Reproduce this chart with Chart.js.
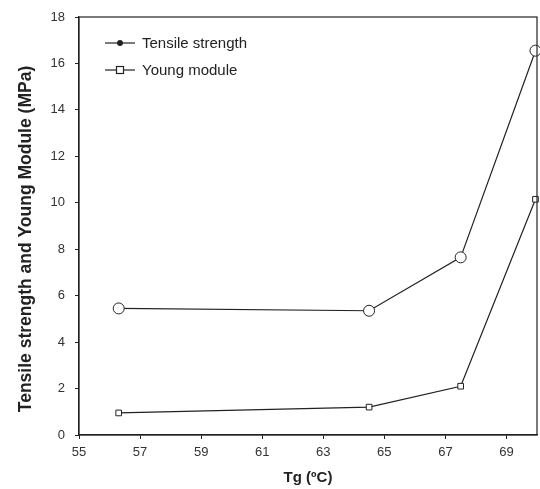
<!DOCTYPE html>
<html><head><meta charset="utf-8">
<script src="https://cdn.jsdelivr.net/npm/chart.js@4/dist/chart.umd.min.js"></script>
<style>html,body{margin:0;padding:0;background:#fff}#wrap{width:540px;height:489px}</style>
</head><body><div id="wrap"><canvas id="c" width="540" height="489"></canvas></div>
<script>
const tgValues = [56.3, 64.5, 67.5, 69.95];
const tensileStrength = [5.45, 5.35, 7.65, 16.55];
const youngModule = [0.95, 1.2, 2.1, 10.15];
const xTicks = [55, 57, 59, 61, 63, 65, 67, 69];
const yTicks = [0, 2, 4, 6, 8, 10, 12, 14, 16, 18];
const seriesLabels = ['Tensile strength', 'Young module'];
const xTitle = 'Tg (ºC)';
const yTitle = 'Tensile strength and Young Module (MPa)';

const FONT = '"Liberation Sans", Arial, sans-serif';
const ink = '#222';

const frame = {
  id: 'frame',
  afterDraw(chart) {
    const {ctx, chartArea: a} = chart;
    ctx.save();
    ctx.strokeStyle = ink; ctx.lineWidth = 1.2;
    ctx.strokeRect(a.left, a.top, a.right - a.left, a.bottom - a.top);
    // legend
    ctx.font = '15px ' + FONT;
    ctx.textBaseline = 'middle';
    chart.data.datasets.forEach((ds, i) => {
      const y = a.top + 26 + i * 27;
      const x0 = a.left + 26, x1 = a.left + 56;
      ctx.strokeStyle = ink; ctx.lineWidth = 1.2;
      ctx.beginPath(); ctx.moveTo(x0, y); ctx.lineTo(x1, y); ctx.stroke();
      const cx = (x0 + x1) / 2;
      if (i === 0) {
        ctx.fillStyle = ink; ctx.beginPath(); ctx.arc(cx, y, 3, 0, Math.PI * 2); ctx.fill();
      } else {
        ctx.fillStyle = '#fff'; ctx.fillRect(cx - 3.5, y - 3.5, 7, 7);
        ctx.strokeRect(cx - 3.5, y - 3.5, 7, 7);
      }
      ctx.fillStyle = ink;
      ctx.fillText(ds.label, x1 + 7, y + 1);
    });
    // axis titles
    ctx.fillStyle = ink;
    ctx.textAlign = 'center'; ctx.textBaseline = 'middle';
    ctx.font = 'bold 15px ' + FONT;
    ctx.fillText(xTitle, (a.left + a.right) / 2, 478);
    ctx.save();
    ctx.translate(26, 239);
    ctx.rotate(-Math.PI / 2);
    ctx.font = 'bold 17.5px ' + FONT;
    ctx.fillText(yTitle, 0, 0);
    ctx.restore();
    ctx.restore();
  }
};

new Chart(document.getElementById('c'), {
  type: 'line',
  data: {
    datasets: [
      { label: seriesLabels[0], data: tgValues.map((x, i) => ({x, y: tensileStrength[i]})),
        borderColor: ink, borderWidth: 1.2, pointStyle: 'circle', pointRadius: 5.5,
        pointBackgroundColor: '#fff', pointBorderColor: ink, pointBorderWidth: 1, tension: 0 },
      { label: seriesLabels[1], data: tgValues.map((x, i) => ({x, y: youngModule[i]})),
        borderColor: ink, borderWidth: 1.2, pointStyle: 'rect', pointRadius: 4,
        pointBackgroundColor: '#fff', pointBorderColor: ink, pointBorderWidth: 1, tension: 0 }
    ]
  },
  options: {
    responsive: false, animation: false, clip: false,
    layout: { autoPadding: false, padding: { top: 17, right: 3, left: 0, bottom: 0 } },
    plugins: { legend: { display: false }, tooltip: { enabled: false } },
    scales: {
      x: {
        type: 'linear', min: 55, max: 70,
        afterBuildTicks: s => { s.ticks = xTicks.map(v => ({value: v})); },
        afterFit: s => { s.height = 54; s.paddingLeft = 0; s.paddingRight = 0; },
        grid: { drawOnChartArea: false, tickLength: 4, color: ink, lineWidth: 1 },
        border: { color: ink, width: 1.2 },
        ticks: { color: '#333', font: { family: FONT, size: 13 }, padding: 6, maxRotation: 0 },
        title: { display: false }
      },
      y: {
        type: 'linear', min: 0, max: 18,
        afterBuildTicks: s => { s.ticks = yTicks.map(v => ({value: v})); },
        afterFit: s => { s.width = 79; s.paddingTop = 0; s.paddingBottom = 0; },
        grid: { drawOnChartArea: false, tickLength: 4, color: ink, lineWidth: 1 },
        border: { color: ink, width: 1.2 },
        ticks: { color: '#333', font: { family: FONT, size: 13 }, padding: 10 },
        title: { display: false }
      }
    }
  },
  plugins: [frame]
});
</script></body></html>
